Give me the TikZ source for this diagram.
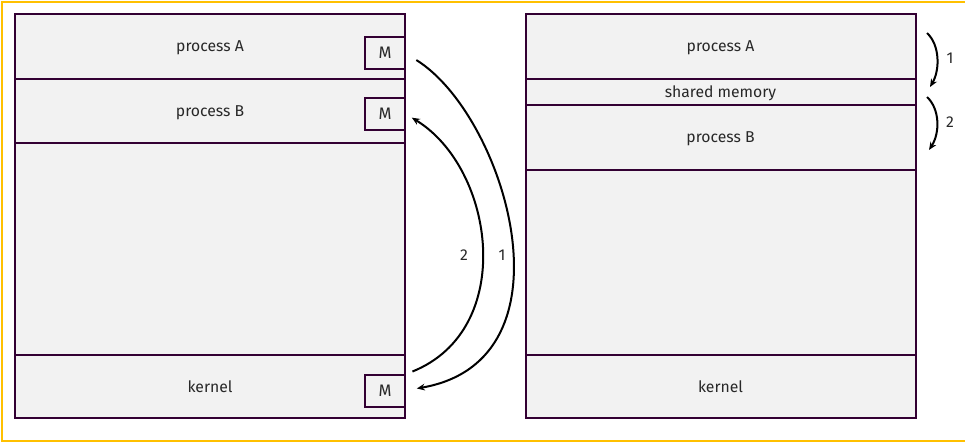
\documentclass[tikz,border=0pt]{standalone}
\usepackage{fontspec}
\setmainfont{Fira Sans}
\usetikzlibrary{positioning,arrows.meta}
\definecolor{framecol}{RGB}{51,0,51}
\definecolor{regionfill}{RGB}{242,242,242}
\definecolor{bordercol}{RGB}{255,192,0}
\definecolor{textcol}{RGB}{40,40,40}
\begin{document}
\begin{tikzpicture}[x=0.75pt, y=-0.75pt,
	region/.style={draw=framecol, fill=regionfill, line width=1.5pt, inner sep=0pt, outer sep=0pt, minimum width=292.5pt, text=textcol, text depth=0pt, font=\fontsize{11.8}{13}\selectfont},
	mbox/.style={region, minimum width=30pt, minimum height=24pt, font=\fontsize{12.5}{14}\selectfont},
	flow/.style={line width=1.5pt, -{Stealth[length=6pt, width=5pt]}},
	num/.style={text=textcol, font=\fontsize{11.8}{13}\selectfont}]
	\useasboundingbox (0,0) rectangle (965,444);

	% Frame
	\draw[bordercol, line width=1.8pt] (965,2) -- (2,2) -- (2,441) -- (965,441);

	% Separate memory
	\node[region, minimum height=48.75pt] (procA) at (210,46.5) {process A};
	\node[region, minimum height=48pt, below=0pt of procA] (procB) {process B};
	\node[region, minimum height=159pt, below=0pt of procB] (freeL) {};
	\node[region, minimum height=47.25pt, below=0pt of freeL] (kernL) {kernel};

	\node[mbox] (mA) at (385,53) {M};
	\node[mbox] (mB) at (385,113.5) {M};
	\node[mbox] (mK) at (385,390.5) {M};

	% Messages via the kernel
	\draw[flow, shorten <=10pt, shorten >=9pt] (mA.east) .. controls +(100,62) and +(175,-30) .. (mK.east);
	\draw[flow, shorten <=6pt, shorten >=6pt] (mK.north east) .. controls +(112,-45) and +(90,55) .. (mB.east);
	\node[num] (nTwo) at (464,255) {2};
	\node[num] (nOne) at (502,255) {1};

	% Shared memory
	\node[region, minimum height=48.75pt] (shA) at (720.5,46.5) {process A};
	\node[region, minimum height=19.5pt, below=0pt of shA] (shMem) {shared memory};
	\node[region, minimum height=48.75pt, below=0pt of shMem] (shB) {process B};
	\node[region, minimum height=138.75pt, below=0pt of shB] (freeR) {};
	\node[region, minimum height=47.25pt, below=0pt of freeR] (kernR) {kernel};

	\coordinate (wA) at (927,33);
	\coordinate (wM) at (930,87);
	\coordinate (rM) at (927,97);
	\coordinate (rB) at (929,150);
	\draw[flow] (wA) .. controls (940,45) and (940,70) .. (wM);
	\draw[flow] (rM) .. controls (940,109) and (940,133) .. (rB);
	\node[num] (sOne) at (950,58) {1};
	\node[num] (sTwo) at (950,122) {2};
\end{tikzpicture}
\end{document}
